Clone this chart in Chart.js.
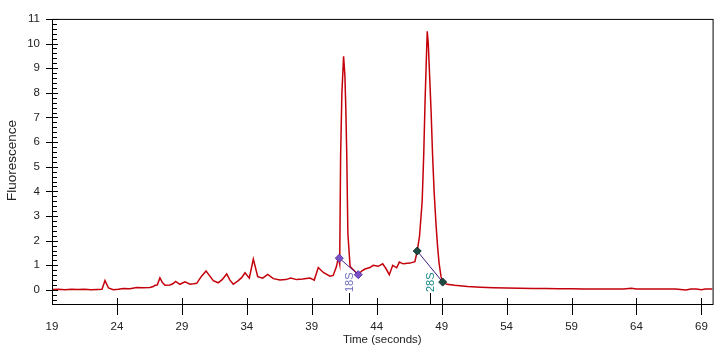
<!DOCTYPE html>
<html>
<head>
<meta charset="utf-8">
<title>Electropherogram</title>
<script src="https://cdn.jsdelivr.net/npm/chart.js@4.4.1/dist/chart.umd.min.js"></script>
<style>
  html, body { margin: 0; padding: 0; background: #fff; }
  canvas { display: block; }
</style>
</head>
<body>
<canvas id="trace" width="724" height="348"></canvas>
<script>
// fluorescence trace: time (s) / signal
const times = [
  19.0, 19.5, 20.0, 20.5, 21.0, 21.5, 22.0, 22.5, 22.85, 23.08, 23.35, 23.72,
  24.1, 24.49, 25.0, 25.52, 26.0, 26.54, 26.8, 26.93, 27.1, 27.31, 27.5, 27.7,
  28.08, 28.3, 28.52, 28.85, 29.24, 29.62, 29.9, 30.14, 30.5, 30.86, 31.1, 31.42,
  31.8, 32.1, 32.45, 32.7, 32.96, 33.34, 33.6, 33.86, 34.19, 34.5, 34.84, 35.22,
  35.61, 36.04, 36.55, 37.0, 37.38, 37.84, 38.3, 38.86, 39.19, 39.5, 39.89, 40.4,
  40.65, 40.9, 41.05, 41.15, 41.22, 41.32, 41.45, 41.55, 41.62, 41.69, 41.78, 41.95,
  42.2, 42.58, 42.84, 43.1, 43.48, 43.73, 44.12, 44.46, 44.71, 44.97, 45.23, 45.54,
  45.74, 46.04, 46.56, 46.94, 47.12, 47.3, 47.5, 47.62, 47.72, 47.8, 47.89, 47.97,
  48.05, 48.12, 48.19, 48.3, 48.42, 48.55, 48.68, 48.8, 48.95, 49.08, 49.4, 50.0,
  51.0, 52.0, 53.0, 54.0, 55.0, 56.0, 57.0, 58.0, 59.0, 60.0, 61.0, 62.0,
  63.0, 63.6, 64.0, 65.0, 66.0, 67.0, 67.8, 68.2, 68.6, 69.0, 69.3, 69.86
]
const fluor = [
  0.02, 0.03, 0.01, 0.03, 0.02, 0.03, 0.01, 0.02, 0.03, 0.38, 0.08, 0.01,
  0.03, 0.06, 0.05, 0.10, 0.09, 0.10, 0.14, 0.19, 0.20, 0.49, 0.30, 0.19,
  0.20, 0.25, 0.35, 0.23, 0.33, 0.23, 0.25, 0.27, 0.55, 0.77, 0.60, 0.38,
  0.29, 0.42, 0.65, 0.40, 0.23, 0.38, 0.50, 0.70, 0.48, 1.25, 0.54, 0.48,
  0.63, 0.46, 0.40, 0.42, 0.48, 0.42, 0.44, 0.48, 0.40, 0.91, 0.71, 0.56,
  0.59, 0.95, 1.32, 1.05, 5.40, 8.00, 9.48, 8.70, 7.40, 5.60, 2.30, 0.95,
  0.82, 0.62, 0.77, 0.85, 0.91, 1.00, 0.96, 1.06, 0.87, 0.62, 1.00, 0.90,
  1.13, 1.06, 1.09, 1.15, 1.58, 2.20, 3.60, 5.50, 7.60, 9.00, 10.50, 10.00,
  9.00, 8.10, 7.20, 5.50, 4.00, 2.80, 1.80, 1.10, 0.55, 0.32, 0.23, 0.19,
  0.14, 0.11, 0.09, 0.08, 0.07, 0.06, 0.06, 0.05, 0.05, 0.04, 0.04, 0.04,
  0.04, 0.07, 0.04, 0.04, 0.04, 0.04, 0.00, 0.04, 0.04, 0.01, 0.04, 0.04
]

// peak start/end markers
const peak18STimes = [41.12, 42.58]
const peak18SFluor = [1.29, 0.62]
const peak28STimes = [47.12, 49.08]
const peak28SFluor = [1.58, 0.32]

// band labels on the time axis
const bandLabels = ['18S', '28S']
const bandTimes = [41.84, 48.1]
const bandColors = ['#6d6dbd', '#128585']

const xTicks = [19, 24, 29, 34, 39, 44, 49, 54, 59, 64, 69]
const yTicks = [0, 1, 2, 3, 4, 5, 6, 7, 8, 9, 10, 11]

const FONT = '"Liberation Sans", Arial, sans-serif'

const toPoints = (xs, ys) => xs.map((x, i) => ({ x: x, y: ys[i] }))

// frame, tick marks, band labels and the y title
const axisFrame = {
  id: 'axisFrame',
  afterDatasetsDraw(chart) {
    const { ctx, chartArea: a, scales: { x, y } } = chart
    ctx.save()
    ctx.strokeStyle = '#000'
    ctx.lineWidth = 1
    ctx.strokeRect(a.left + 0.5, a.top + 0.5, a.right - a.left, a.bottom - a.top)

    ctx.beginPath()
    // y: majors cross the axis, minors every 0.2 inside
    yTicks.forEach(v => {
      const py = Math.round(y.getPixelForValue(v)) + 0.5
      ctx.moveTo(a.left - 6, py)
      ctx.lineTo(a.left + 6, py)
    })
    for (let k = -2; k <= 55; k++) {
      if (k % 5 === 0) continue
      const v = k / 5
      if (v < y.min || v > y.max) continue
      const py = Math.round(y.getPixelForValue(v)) + 0.5
      ctx.moveTo(a.left, py)
      ctx.lineTo(a.left + 5, py)
    }
    // x: majors cross the bottom edge
    xTicks.forEach(v => {
      if (v <= x.min) return
      const px = Math.round(x.getPixelForValue(v)) + 0.5
      ctx.moveTo(px, a.bottom - 6)
      ctx.lineTo(px, a.bottom + 11)
    })
    bandTimes.forEach(v => {
      const px = Math.round(x.getPixelForValue(v)) + 0.5
      ctx.moveTo(px, a.bottom - 11)
      ctx.lineTo(px, a.bottom)
    })
    ctx.stroke()

    // rotated band names above their ticks
    ctx.font = '11px ' + FONT
    ctx.textAlign = 'left'
    ctx.textBaseline = 'middle'
    bandLabels.forEach((label, i) => {
      const px = Math.round(x.getPixelForValue(bandTimes[i])) + 0.5
      ctx.save()
      ctx.translate(px, a.bottom - 12)
      ctx.rotate(-Math.PI / 2)
      ctx.fillStyle = bandColors[i]
      ctx.fillText(label, 0, 0)
      ctx.restore()
    })

    // y title sits a little below the axis midpoint
    ctx.font = '13.5px ' + FONT
    ctx.fillStyle = '#222'
    ctx.textAlign = 'center'
    ctx.translate(12, 160.5)
    ctx.rotate(-Math.PI / 2)
    ctx.fillText('Fluorescence', 0, 0)
    ctx.restore()
  }
}

const tickFont = { family: FONT, size: 11.5 }

new Chart(document.getElementById('trace'), {
  type: 'line',
  data: {
    datasets: [
      {
        data: toPoints(peak18STimes, peak18SFluor),
        borderColor: '#4b1f8f',
        borderWidth: 1,
        pointStyle: 'rectRot',
        pointRadius: 4,
        pointBackgroundColor: '#7b52c8',
        pointBorderColor: '#5b35a3',
        pointBorderWidth: 1,
        order: 0
      },
      {
        data: toPoints(peak28STimes, peak28SFluor),
        borderColor: '#3d1a86',
        borderWidth: 1,
        pointStyle: 'rectRot',
        pointRadius: 4,
        pointBackgroundColor: '#1e4a44',
        pointBorderColor: '#10302b',
        pointBorderWidth: 1,
        order: 0
      },
      {
        data: toPoints(times, fluor),
        borderColor: '#c4000a',
        borderWidth: 1.5,
        pointRadius: 0,
        tension: 0,
        order: 1
      }
    ]
  },
  options: {
    responsive: false,
    animation: false,
    events: [],
    layout: { padding: { top: 3, right: 11, left: 0, bottom: 0 } },
    plugins: { legend: { display: false }, tooltip: { enabled: false } },
    scales: {
      x: {
        type: 'linear',
        min: 19,
        max: 69.86,
        grid: { display: false, drawTicks: false },
        border: { display: false },
        ticks: { font: tickFont, color: '#222', padding: 16, autoSkip: false, maxRotation: 0 },
        afterBuildTicks: s => { s.ticks = xTicks.map(v => ({ value: v })) },
        afterFit: s => { s.height = 44 },
        title: {
          display: true,
          text: 'Time (seconds)',
          color: '#222',
          font: { family: FONT, size: 11.5 },
          padding: { top: 0, bottom: 1 }
        }
      },
      y: {
        type: 'linear',
        min: -0.57,
        max: 11,
        grid: { display: false, drawTicks: false },
        border: { display: false },
        ticks: { font: tickFont, color: '#222', padding: 12 },
        afterBuildTicks: s => { s.ticks = yTicks.map(v => ({ value: v })) },
        afterFit: s => { s.width = 52 }
      }
    }
  },
  plugins: [axisFrame]
})
</script>
</body>
</html>
